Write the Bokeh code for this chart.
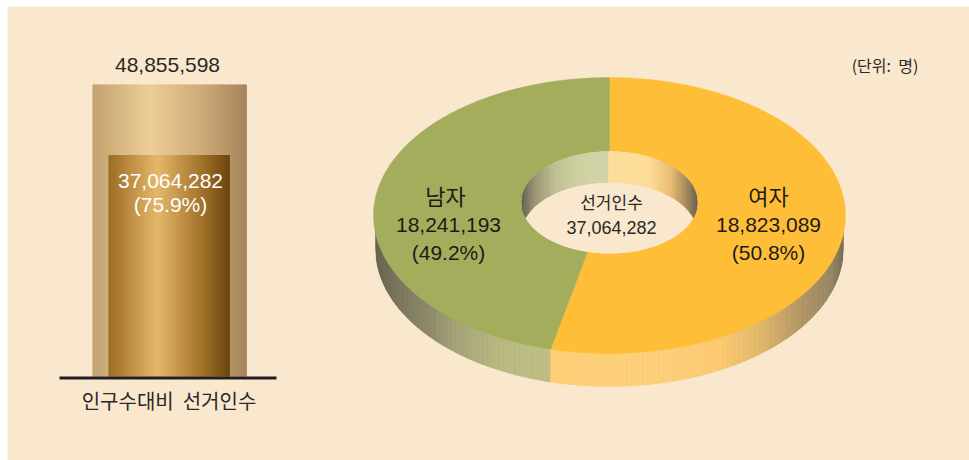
import numpy as np
from bokeh.core.properties import value
from bokeh.embed import file_html
from bokeh.models import Range1d
from bokeh.plotting import figure
from bokeh.resources import INLINE

# ---- data
bar_label = "인구수대비\u00a0\u00a0선거인수"
population = 48855598
voters = 37064282
voters_share = "(75.9%)"
slice_names = ["여자", "남자"]
slice_values = [18823089, 18241193]
slice_shares = ["(50.8%)", "(49.2%)"]
donut_title = "선거인수"
unit_label = "(단위:\u00a0\u00a0명)"

# ---- styles
PANEL = "#f9e8cd"
HANGUL = value("Noto Sans CJK KR")
DIGITS = value("Liberation Sans")
INK = "#2b2826"
SLICE_COLORS = ["#ffbe37", "#a4ad5b"]
BAR_BIG = [(0, "#bd9a65"), (.37, "#eccb92"), (.7, "#c9a46f"), (1, "#9c7850")]
BAR_SMALL = [(0, "#96651a"), (.4, "#e5b566"), (.75, "#a07023"), (1, "#623c05")]
WALL = [(373, "#4f4d3c"), (395, "#66644b"), (430, "#7f7d5d"), (457, "#9a9a6c"), (500, "#aeb177"), (550, "#b6b97a"),
        (550.01, "#ffca6b"), (650, "#ffcc70"), (720, "#fbc465"), (760, "#dcb25e"), (800, "#a98a58"),
        (830, "#8c7a58"), (845, "#5e5842")]
HOLE_WALL = [(521, "#4f4d3c"), (533, "#8a8468"), (555, "#b8bb8a"), (580, "#c9cc9c"), (608, "#cdd0a5"),
             (608.01, "#ffdd98"), (650, "#ffd98e"), (670, "#e7b866"), (685, "#a0804f"), (697, "#5a5040")]
STREAK = [0, 3, -2, 1, 5, -4, 1, 3, -1, 4, 0, -6, 2, 3, -1, 1]


def mix(stops, t, shift=0):
    pos = [s[0] for s in stops]
    rgb = np.array([[int(s[1][i:i + 2], 16) for i in (1, 3, 5)] for s in stops], float)
    c = [np.clip(np.interp(t, pos, rgb[:, i]) + shift, 0, 255) for i in range(3)]
    return "#%02x%02x%02x" % tuple(int(round(v)) for v in c)


p = figure(width=969, height=460, x_range=Range1d(0, 969), y_range=Range1d(460, 0),
           output_backend="svg", toolbar_location=None, min_border=0,
           background_fill_color="#ffffff", border_fill_color="#ffffff", outline_line_color=None)
p.axis.visible = False
p.grid.visible = False
p.quad(left=7, right=969, top=6, bottom=460, fill_color=PANEL, line_color=None)

# ---- bars: heights go through a scale in persons
BASE, TOP = 376, 84
per_px = population / (BASE - TOP)
p.extra_y_ranges["people"] = Range1d(-(460 - BASE) * per_px, BASE * per_px)


def bar(x0, x1, v, stops):
    e = np.arange(x0, x1 + 1)
    cols = [mix(stops, (a - x0) / (x1 - x0)) for a in e[:-1]]
    p.quad(left=e[:-1], right=e[1:] + .3, bottom=0, top=v, fill_color=cols, line_color=None,
           y_range_name="people")


bar(92, 246, population, BAR_BIG)
bar(108, 229, voters, BAR_SMALL)
p.segment(59, 377.5, 276, 377.5, line_color="#231f20", line_width=3)

# ---- donut
CX, CY, RX, RY, DEPTH = 609, 215, 236, 138, 33
HY, HRX, HRY, HDROP = 202, 88, 51, 31
SKEW = 11.6  # the drawing's view turns the lower split further round than its share


def view(t):
    return t + SKEW * np.sin(np.radians(t) / 2) ** 2


# outer wall
WRX = RX - 2
low = lambda x: CY + RY * np.sqrt(np.clip(1 - ((x - CX) / RX) ** 2, 0, 1))
wlow = lambda x: CY + DEPTH + RY * np.sqrt(np.clip(1 - ((x - CX) / WRX) ** 2, 0, 1))
wx, wy, wc = [], [], []
for k, x in enumerate(np.arange(CX - WRX, CX + WRX)):
    wx.append([x, x + 1, x + 1, x])
    wy.append([low(x) - 3, low(x + 1) - 3, wlow(x + 1), wlow(x)])
    wc.append(mix(WALL, x + .5, STREAK[k % len(STREAK)]))
p.patches(wx, wy, fill_color=wc, line_color=wc, line_width=.3)

# top face
total = sum(slice_values)
edges = np.concatenate([[0], np.cumsum(slice_values) / total * 360])
for i, col in enumerate(SLICE_COLORS):
    t = np.radians(np.linspace(view(edges[i]), view(edges[i + 1]), 240))
    ox = CX + RX * np.sin(t)
    oy = CY - RY * np.cos(t)
    ix = CX + HRX * np.sin(t[::-1])
    iy = HY - HRY * np.cos(t[::-1])
    p.patch(np.r_[ox, ix], np.r_[oy, iy], fill_color=col, line_color=col, line_width=.4)

# hole: floor, then the wall above it
u = np.radians(np.linspace(0, 360, 361))
p.patch(CX + HRX * np.sin(u), HY - HRY * np.cos(u), fill_color=PANEL, line_color=None)
h_up = lambda x: HY - HRY * np.sqrt(np.clip(1 - ((x - CX) / HRX) ** 2, 0, 1))
h_low = lambda x: HY + HRY * np.sqrt(np.clip(1 - ((x - CX) / HRX) ** 2, 0, 1))
h_end = lambda x: np.minimum(h_up(x) + HDROP, h_low(x))
hx, hy, hc = [], [], []
for k, x in enumerate(np.arange(CX - HRX, CX + HRX)):
    hx.append([x, x + 1, x + 1, x])
    hy.append([h_up(x), h_up(x + 1), h_end(x + 1), h_end(x)])
    hc.append(mix(HOLE_WALL, x + .5, STREAK[k % len(STREAK)] * .5))
p.patches(hx, hy, fill_color=hc, line_color=hc, line_width=.3)


# ---- texts
def label(x, y, s, size, color=INK, font=DIGITS):
    p.text([x], [y], text=[s], text_font=font, text_font_size=f"{size}px", text_color=color,
           text_align="center", text_baseline="middle")


label(167, 64, f"{population:,}", 21)
label(170, 180, f"{voters:,}", 21, "#ffffff")
label(170, 204, voters_share, 21, "#ffffff")
label(168.5, 400, bar_label, 20, font=HANGUL)
label(884.5, 64, unit_label, 16, font=HANGUL)
label(611, 201, donut_title, 17, font=HANGUL)
label(611, 227, f"{voters:,}", 18)
for x, nm, v, sh in zip([768, 448], slice_names, slice_values, slice_shares):
    label(x - 3 if nm == "남자" else x, 194, nm, 22, "#1d1b1a", HANGUL)
    label(x, 224, f"{v:,}", 21, "#1d1b1a")
    label(x, 252, sh, 21, "#1d1b1a")

open("out.html", "w").write(file_html(p, INLINE))
